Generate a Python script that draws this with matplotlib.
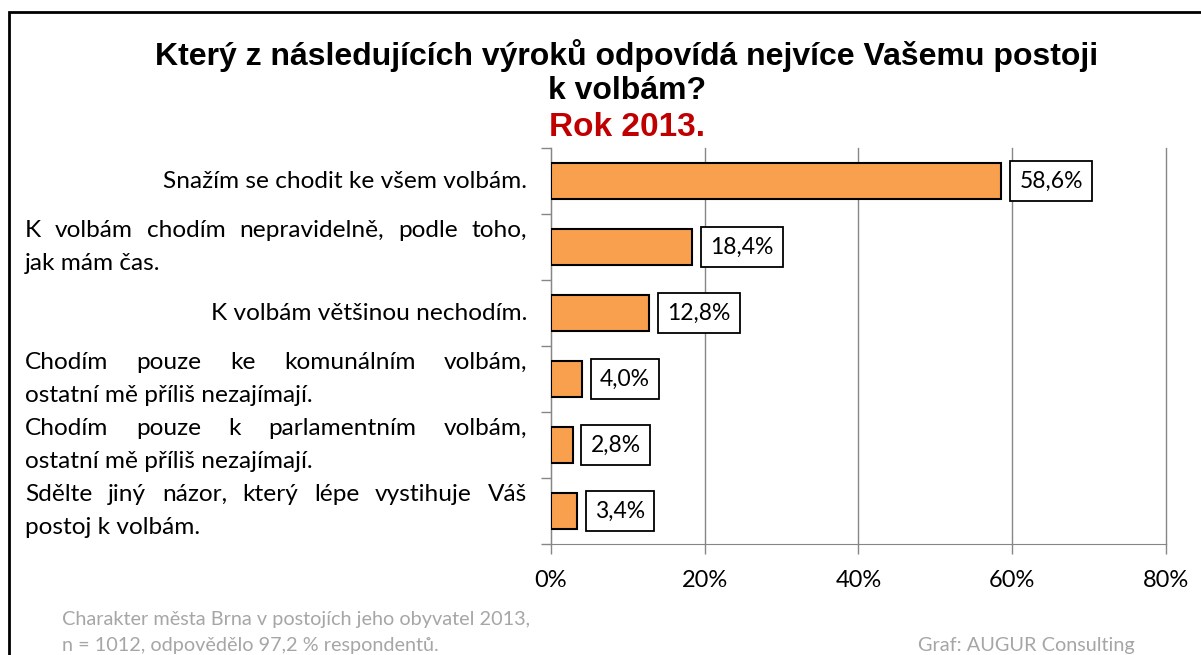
import matplotlib
matplotlib.use('Agg')
import matplotlib.pyplot as plt
import matplotlib.transforms as mtransforms
from matplotlib.patches import Rectangle

# Data
categories = ['Snažím se chodit ke všem volbám.',
              'K volbám chodím nepravidelně, podle toho,\njak mám čas.',
              'K volbám většinou nechodím.',
              'Chodím pouze ke komunálním volbám,\nostatní mě příliš nezajímají.',
              'Chodím pouze k parlamentním volbám,\nostatní mě příliš nezajímají.',
              'Sdělte jiný názor, který lépe vystihuje Váš\npostoj k volbám.']
values = [58.6, 18.4, 12.8, 4.0, 2.8, 3.4]
xticks = [0, 20, 40, 60, 80]

title_lines = ['Který z následujících výroků odpovídá nejvíce Vašemu postoji', 'k volbám?']
subtitle = 'Rok 2013.'
source_lines = ['Charakter města Brna v postojích jeho obyvatel 2013,',
                'n = 1012, odpovědělo 97,2 % respondentů.']
credit = 'Graf: AUGUR Consulting'

bar_color = '#F9A04F'
grid_color = '#868686'
body_font = 'Lato'

W, H = 1201, 655
fig = plt.figure(figsize=(W / 100, H / 100), dpi=100)
ax = fig.add_axes([551 / W, 1 - 544 / H, (1166 - 551) / W, (544 - 148) / H])

ypos = list(range(len(categories)))
ax.barh(ypos, values, height=0.545, color=bar_color, edgecolor='black', linewidth=1.5, zorder=3)

ax.set_xlim(0, 80)
ax.set_ylim(len(categories) - 0.5, -0.5)
ax.set_xticks(xticks)
ax.set_xticklabels([f'{t}%' for t in xticks], fontsize=17, family=body_font)
ax.set_yticks([i - 0.5 for i in range(len(categories) + 1)])
ax.set_yticklabels([])
ax.tick_params(axis='both', color=grid_color, length=7, width=1)
ax.tick_params(axis='x', pad=12)
ax.xaxis.grid(True, color=grid_color, linewidth=1)
for gl in ax.xaxis.get_gridlines():
    gl.set_clip_on(False)
ax.set_axisbelow(True)
for s in ['top', 'right']:
    ax.spines[s].set_visible(False)
for s in ['left', 'bottom']:
    ax.spines[s].set_color(grid_color)

# value labels in boxes
for y, v in zip(ypos, values):
    ax.annotate(f'{v:.1f}%'.replace('.', ','), xy=(v, y), xytext=(13, 0), textcoords='offset points',
                va='center', ha='left', fontsize=16.5, family=body_font, zorder=4,
                bbox=dict(boxstyle='square,pad=0.4', facecolor='white', edgecolor='black', linewidth=1.3))

# category labels: single line right aligned, multi-line justified
trans = mtransforms.blended_transform_factory(fig.transFigure, ax.transData)
x_left, x_right = 25 / W, 527 / W
lab_size = 17.6
fig.canvas.draw()
renderer = fig.canvas.get_renderer()
for y, cat in zip(ypos, categories):
    lines = cat.split('\n')
    if len(lines) == 1:
        ax.text(x_right, y, cat, transform=trans, ha='right', va='center',
                fontsize=lab_size, family=body_font)
        continue
    for i, line in enumerate(lines):
        ly = y + (i - (len(lines) - 1) / 2) * 0.5
        if i == len(lines) - 1:
            ax.text(x_left, ly, line, transform=trans, ha='left', va='center',
                    fontsize=lab_size, family=body_font)
            continue
        words = line.split(' ')
        texts = [ax.text(x_left, ly, w, transform=trans, ha='left', va='center',
                         fontsize=lab_size, family=body_font) for w in words]
        widths = [t.get_window_extent(renderer).width / W for t in texts]
        gap = (x_right - x_left - sum(widths)) / (len(words) - 1)
        x = x_left
        for t, w in zip(texts, widths):
            t.set_x(x)
            x += w + gap

# titles
fig.text(627 / W, 1 - 56 / H, title_lines[0], ha='center', va='center', fontsize=23,
         fontweight='bold', family='Liberation Sans')
fig.text(627 / W, 1 - 91 / H, title_lines[1], ha='center', va='center', fontsize=23,
         fontweight='bold', family='Liberation Sans')
fig.text(627 / W, 1 - 127 / H, subtitle, ha='center', va='center', fontsize=24,
         fontweight='bold', family='Liberation Sans', color='#C00000')

# footnotes
fig.text(62 / W, 1 - 620 / H, source_lines[0], ha='left', va='center', fontsize=14.3,
         family=body_font, color='#A6A6A6')
fig.text(62 / W, 1 - 645 / H, source_lines[1], ha='left', va='center', fontsize=14.3,
         family=body_font, color='#A6A6A6')
fig.text(1135 / W, 1 - 645 / H, credit, ha='right', va='center', fontsize=14.3,
         family=body_font, color='#A6A6A6')

# outer frame
fig.patches.append(Rectangle((9 / W, -0.1), 1.2, 1 - 12 / H + 0.1, transform=fig.transFigure,
                             fill=False, edgecolor='black', linewidth=2, clip_on=False))

plt.savefig('out.png', dpi=100)
